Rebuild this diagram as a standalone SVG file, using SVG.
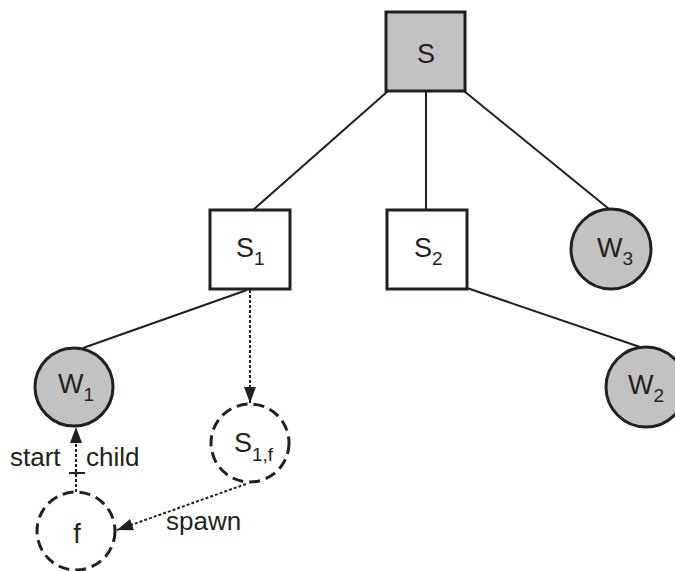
<svg xmlns="http://www.w3.org/2000/svg" width="675" height="571" viewBox="0 0 675 571">
<defs>
<style>
.box{fill:#fff;stroke:#231f20;stroke-width:3}
.circ{fill:#c2c2c2;stroke:#231f20;stroke-width:3}
.dcirc{fill:#fff;stroke:#231f20;stroke-width:3;stroke-dasharray:11 6}
.edge{stroke:#231f20;stroke-width:2;fill:none}
.dot{stroke:#231f20;stroke-width:2;fill:none;stroke-dasharray:3 2}
text{font-family:"Liberation Sans",Arial,sans-serif;fill:#231f20}
.lbl{font-size:27px}
.sub{font-size:19px}
.el{font-size:26px}
</style>
<marker id="arr" viewBox="0 0 16 12" refX="16" refY="6" markerWidth="16" markerHeight="12" markerUnits="userSpaceOnUse" orient="auto">
<path d="M0,0 L16,6 L0,12 Z" fill="#231f20"/>
</marker>
</defs>
<rect width="675" height="571" fill="#fff"/>
<g id="connectors">
<line class="edge" x1="388" y1="91" x2="253" y2="210"/>
<line class="edge" x1="426" y1="91" x2="426" y2="210"/>
<line class="edge" x1="464" y1="91" x2="609" y2="209"/>
<line class="edge" x1="467" y1="288" x2="640" y2="347"/>
<line class="edge" x1="247" y1="290" x2="83" y2="348"/>
<line class="dot" x1="250" y1="290" x2="250" y2="403" marker-end="url(#arr)"/>
<line class="dot" x1="76" y1="492" x2="76" y2="427" marker-end="url(#arr)"/>
<line class="edge" x1="69" y1="473" x2="85" y2="473" stroke-width="1.2"/>
<line class="dot" x1="246" y1="484" x2="117" y2="530" marker-end="url(#arr)"/>
<text class="el" x="10" y="466">start</text>
<text class="el" x="86" y="466">child</text>
<text class="el" x="166" y="530">spawn</text>
</g>
<g id="S">
<rect class="box" x="386" y="12" width="79" height="79" style="fill:#c2c2c2"/>
<text class="lbl" x="426" y="63" text-anchor="middle" font-size="28">S</text>
</g>
<g id="S1">
<rect class="box" x="210" y="210" width="80" height="79"/>
<text class="lbl" x="236" y="257">S<tspan class="sub" dy="8">1</tspan></text>
</g>
<g id="S2">
<rect class="box" x="387" y="210" width="80" height="79"/>
<text class="lbl" x="414" y="257">S<tspan class="sub" dy="8">2</tspan></text>
</g>
<g id="W3">
<circle class="circ" cx="611" cy="249" r="40"/>
<text class="lbl" x="597" y="257">W<tspan class="sub" dy="8">3</tspan></text>
</g>
<g id="W1">
<circle class="circ" cx="74" cy="387" r="39"/>
<text class="lbl" x="58" y="393">W<tspan class="sub" dy="8">1</tspan></text>
</g>
<g id="W2">
<circle class="circ" cx="646" cy="387" r="40"/>
<text class="lbl" x="628" y="394">W<tspan class="sub" dy="8">2</tspan></text>
</g>
<g id="S1f">
<circle class="dcirc" cx="250" cy="443" r="39"/>
<text class="lbl" x="234" y="452">S<tspan class="sub" dy="9">1,f</tspan></text>
</g>
<g id="f">
<circle class="dcirc" cx="76" cy="531" r="39"/>
<text class="lbl" x="77" y="543" text-anchor="middle" font-size="31">f</text>
</g>
</svg>
